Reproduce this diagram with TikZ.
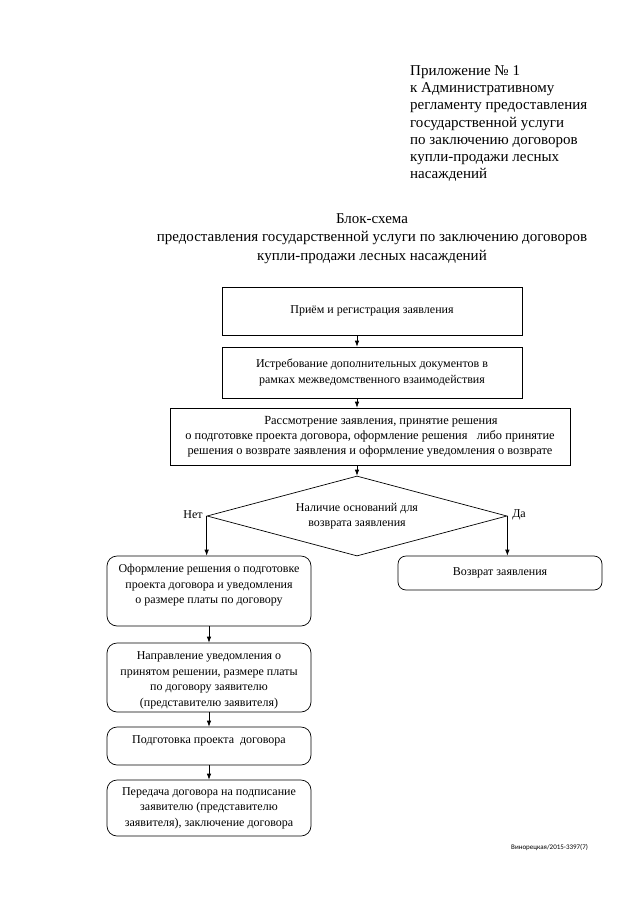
\documentclass[tikz,border=0pt]{standalone}
\usepackage{fontspec}
\setmainfont{Liberation Serif}
\newfontfamily\footfont{Carlito}
\usetikzlibrary{arrows.meta,shapes.geometric}
\tikzset{
	blk/.style={draw,line width=0.7pt,align=center,inner sep=2pt,font=\fontsize{12}{15.5}\selectfont},
	rblk/.style={blk,rounded corners=10pt},
	arr/.style={line width=0.7pt,-{Latex[length=6pt,width=4.5pt]}}
}
\begin{document}
\begin{tikzpicture}[x=1pt,y=-1pt]
			\useasboundingbox (0,0) rectangle (640,905);
			\node[anchor=north west,align=left,inner sep=0,font=\fontsize{15}{17.3}\selectfont] (app) at (410,65) {Приложение № 1\\к Административному\\регламенту предоставления\\государственной услуги\\по заключению договоров\\купли-продажи лесных\\насаждений};
			\node[anchor=north,align=center,inner sep=0,font=\fontsize{15}{18.5}\selectfont] (title) at (372,213) {Блок-схема\\предоставления государственной услуги по заключению договоров\\купли-продажи лесных насаждений};
			\node[blk,minimum width=300,minimum height=48] (b1) at (372,311) {Приём и регистрация заявления};
			\node[blk,minimum width=300,minimum height=51] (b2) at (372,372.5) {Истребование дополнительных документов в\\рамках межведомственного взаимодействия};
			\node[blk,font=\fontsize{12.4}{14.8}\selectfont,minimum width=400,minimum height=57] (b3) at (370,436.5) {\hspace*{22pt}Рассмотрение заявления, принятие решения\\о подготовке проекта договора, оформление решения \ \ либо принятие\\решения о возврате заявления и оформление уведомления о возврате};
			\node[draw,diamond,line width=0.7pt,aspect=3.75,minimum width=300,minimum height=80,inner sep=0,align=center,font=\fontsize{12}{14.5}\selectfont] (q) at (357,516) {Наличие оснований для\\возврата заявления};
			\node[font=\fontsize{12}{14}\selectfont] (no) at (193,515) {Нет};
			\node[font=\fontsize{12}{14}\selectfont] (yes) at (519,515) {Да};
			\node[rblk,text depth=14pt,minimum width=204,minimum height=70] (l1) at (209,591) {Оформление решения о подготовке\\проекта договора и уведомления\\о размере платы по договору};
			\node[rblk,text height=60pt,minimum width=204,minimum height=69] (l2) at (209,677.5) {Направление уведомления о\\принятом решении, размере платы\\по договору заявителю\\(представителю заявителя)};
			\node[rblk,text depth=13pt,minimum width=204,minimum height=38] (l3) at (209,746) {Подготовка проекта \ договора};
			\node[rblk,minimum width=204,minimum height=56] (l4) at (209,808) {Передача договора на подписание\\заявителю (представителю\\заявителя), заключение договора};
			\node[rblk,rounded corners=8pt,minimum width=204,minimum height=34] (r1) at (500,573) {Возврат заявления};
			\node[anchor=west,inner sep=0,font=\footfont\fontsize{7}{8}\selectfont] (foot) at (511,848) {Винорецкая/2015-3397(7)};
			\draw[arr] (b1.south -| q.north) -- (b2.north -| q.north);
			\draw[arr] (b2.south -| q.north) -- (b3.north -| q.north);
			\draw[arr] (b3.south -| q.north) -- (q.north);
			\draw[arr] (q.west) -- (l1.north -| q.west);
			\draw[arr] (q.east) -- (r1.north -| q.east);
			\draw[arr] (l1.south) -- (l2.north);
			\draw[arr] (l2.south) -- (l3.north);
			\draw[arr] (l3.south) -- (l4.north);
		\end{tikzpicture}
\end{document}
